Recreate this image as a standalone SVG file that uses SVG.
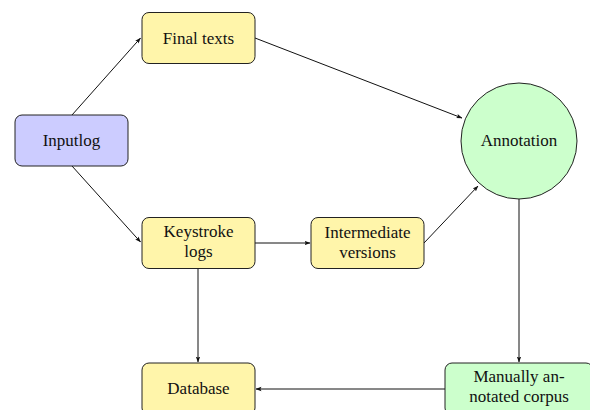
<svg xmlns="http://www.w3.org/2000/svg" width="590" height="410" viewBox="0 0 590 410" font-family="'Liberation Serif', 'Times New Roman', Times, serif">
<style>
.box{stroke:#222;stroke-width:1}
.yellow{fill:#fff5aa}
.blue{fill:#ccccff}
.green{fill:#ccffcc}
text{font-family:'Liberation Serif','Times New Roman',Times,serif;font-size:17px;fill:#111;text-anchor:middle}
.edge{stroke:#111;stroke-width:1;fill:none;marker-end:url(#arr)}
</style>
<defs>
<marker id="arr" viewBox="0 0 6 6" refX="5.5" refY="3" markerWidth="6" markerHeight="6" markerUnits="userSpaceOnUse" orient="auto">
<path d="M0,0.8 L6,3 L0,5.2 L1.2,3 Z" fill="#111"/>
</marker>
</defs>
<g id="connectors">
<line class="edge" x1="72" y1="115" x2="140.5" y2="38"/>
<line class="edge" x1="72" y1="166" x2="140.5" y2="242"/>
<line class="edge" x1="255" y1="38" x2="462" y2="118"/>
<line class="edge" x1="255" y1="243" x2="310" y2="243"/>
<line class="edge" x1="424" y1="243" x2="478" y2="186"/>
<line class="edge" x1="519" y1="199" x2="519" y2="362"/>
<line class="edge" x1="198" y1="269" x2="198" y2="362"/>
<line class="edge" x1="445" y1="389" x2="256" y2="389"/>
</g>
<g id="inputlog">
<rect class="box blue" x="15" y="115" width="113" height="51" rx="7"/>
<text x="71.5" y="146">Inputlog</text>
</g>
<g id="final-texts">
<rect class="box yellow" x="142" y="12.5" width="113" height="51" rx="7"/>
<text x="198.5" y="44">Final texts</text>
</g>
<g id="keystroke-logs">
<rect class="box yellow" x="142" y="217.5" width="113" height="51" rx="7"/>
<text x="198.5" y="237">Keystroke</text>
<text x="198.5" y="257">logs</text>
</g>
<g id="intermediate-versions">
<rect class="box yellow" x="311" y="217.5" width="113" height="51" rx="7"/>
<text x="367.5" y="238">Intermediate</text>
<text x="367.5" y="258">versions</text>
</g>
<g id="annotation">
<circle class="box green" cx="519" cy="141" r="58"/>
<text x="519" y="146">Annotation</text>
</g>
<g id="database">
<rect class="box yellow" x="142" y="363" width="113" height="52" rx="7"/>
<text x="198.5" y="394">Database</text>
</g>
<g id="manually-annotated-corpus">
<rect class="box green" x="445" y="363" width="148" height="52" rx="7"/>
<text x="519" y="382">Manually an-</text>
<text x="519" y="402">notated corpus</text>
</g>
</svg>
